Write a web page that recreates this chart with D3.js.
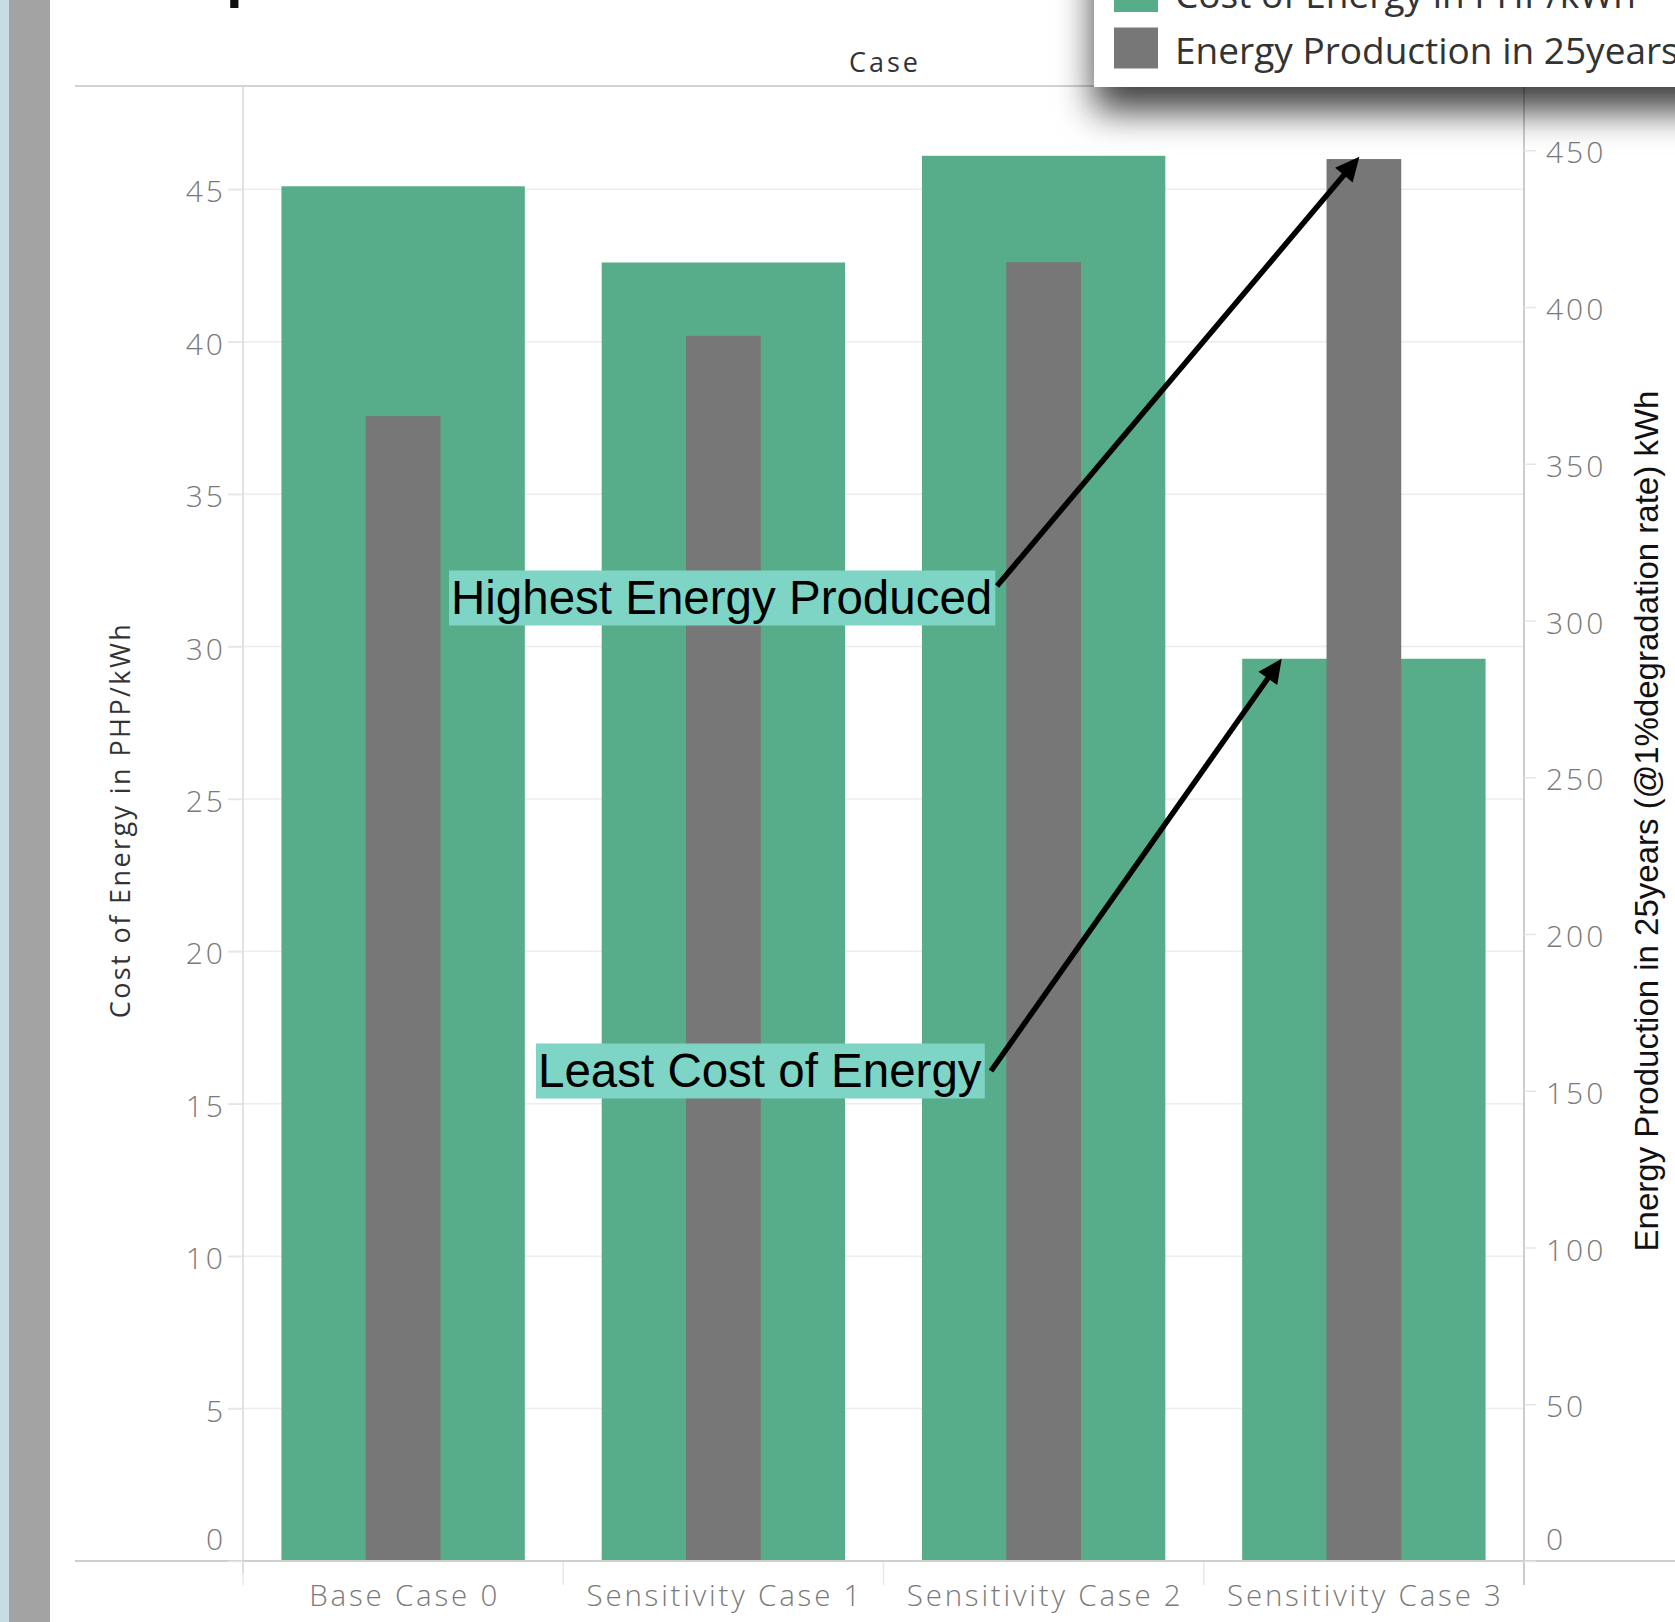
<!DOCTYPE html>
<html>
<head>
<meta charset="utf-8">
<script src="https://cdn.jsdelivr.net/npm/d3@7"></script>
<style>
  html, body { margin: 0; padding: 0; background: #ffffff; overflow: hidden; }
  svg { display: block; }
</style>
</head>
<body>
<div id="chart"></div>
<script>
// ---------------- DATA ----------------
const categories = ["Base Case 0", "Sensitivity Case 1", "Sensitivity Case 2", "Sensitivity Case 3"];
const costOfEnergy = [45.1, 42.6, 46.1, 29.6];           // PHP/kWh (left axis)
const energyProduction = [365.2, 390.8, 414.3, 447.2];    // kWh (right axis)
const leftTicks = [0, 5, 10, 15, 20, 25, 30, 35, 40, 45];
const rightTicks = [0, 50, 100, 150, 200, 250, 300, 350, 400, 450];
const seriesNames = ["Cost of Energy in PHP/kWh", "Energy Production in 25years (@1%degradation rate) kWh"];
const leftTitle = "Cost of Energy in PHP/kWh";
const rightTitle = "Energy Production in 25years (@1%degradation rate) kWh";
const headerTitle = "Case";
const annotations = [
  { text: "Highest Energy Produced", series: "energy", index: 3 },
  { text: "Least Cost of Energy", series: "cost", index: 3 }
];

// ---------------- LAYOUT ----------------
const W = 1675, H = 1622;
const plot = { left: 243, right: 1524, top: 86, bottom: 1561 };
const GREEN = "#57ad8a", GRAY = "#777777";
const TABFONT = "'Open Sans', 'DejaVu Sans', sans-serif";
const ARIAL = "'Liberation Sans', Arial, sans-serif";

const svg = d3.select("#chart").append("svg")
  .attr("width", W).attr("height", H)
  .attr("viewBox", `0 0 ${W} ${H}`);

const defs = svg.append("defs");
const shadow = defs.append("filter").attr("id", "legendShadow")
  .attr("x", "-30%").attr("y", "-60%").attr("width", "160%").attr("height", "260%");
shadow.append("feDropShadow").attr("dx", 0).attr("dy", 24).attr("stdDeviation", 18)
  .attr("flood-color", "#000").attr("flood-opacity", 0.75);

// left window strip
svg.append("rect").attr("x", 0).attr("y", 0).attr("width", 9).attr("height", H).attr("fill", "#c8dde3");
svg.append("rect").attr("x", 9).attr("y", 0).attr("width", 41).attr("height", H).attr("fill", "#a3a3a3");

// clipped title fragment at very top
svg.append("text").attr("x", 226).attr("y", -4)
  .attr("font-family", ARIAL).attr("font-weight", "bold").attr("font-size", 60)
  .attr("fill", "#111").text("p");

// ---------------- SCALES ----------------
const x = d3.scaleBand().domain(categories)
  .range([plot.left, plot.right]).paddingInner(0.24).paddingOuter(0.12);
const yL = d3.scaleLinear().domain([0, 48.39]).range([plot.bottom, plot.top]);
const yR = d3.scaleLinear().domain([0, 470.5]).range([plot.bottom, plot.top]);
const grayW = x.bandwidth() * 0.307;

// gridlines (left axis)
svg.append("g").selectAll("line").data(leftTicks).join("line")
  .attr("x1", plot.left - 15).attr("x2", plot.right)
  .attr("y1", d => yL(d)).attr("y2", d => yL(d))
  .attr("stroke", "#ececec").attr("stroke-width", 1.5);

// band separators below axis
const bounds = categories.map(c => x(c) - x.step() * x.paddingInner() / 2).concat([plot.right]);
svg.append("g").selectAll("line").data(bounds).join("line")
  .attr("x1", d => d).attr("x2", d => d)
  .attr("y1", plot.bottom).attr("y2", plot.bottom + 24)
  .attr("stroke", "#e8e8e8").attr("stroke-width", 1.5);

// axis frame lines
svg.append("line").attr("x1", plot.left).attr("x2", plot.left)
  .attr("y1", plot.top).attr("y2", plot.bottom + 12)
  .attr("stroke", "#d9d9d9").attr("stroke-width", 1.5);
svg.append("line").attr("x1", plot.right).attr("x2", plot.right)
  .attr("y1", plot.top).attr("y2", plot.bottom + 24)
  .attr("stroke", "#cccccc").attr("stroke-width", 2);

// ---------------- BARS ----------------
svg.append("g").selectAll("rect").data(categories).join("rect")
  .attr("x", d => x(d)).attr("width", x.bandwidth())
  .attr("y", (d, i) => yL(costOfEnergy[i]))
  .attr("height", (d, i) => yL(0) - yL(costOfEnergy[i]))
  .attr("fill", GREEN);

svg.append("g").selectAll("rect").data(categories).join("rect")
  .attr("x", d => x(d) + x.bandwidth() / 2 - grayW / 2).attr("width", grayW)
  .attr("y", (d, i) => yR(energyProduction[i]))
  .attr("height", (d, i) => yR(0) - yR(energyProduction[i]))
  .attr("fill", GRAY);

// horizontal frame lines
svg.append("line").attr("x1", 75).attr("x2", W).attr("y1", plot.bottom).attr("y2", plot.bottom)
  .attr("stroke", "#cfcfcf").attr("stroke-width", 2);
svg.append("line").attr("x1", 75).attr("x2", W).attr("y1", plot.top).attr("y2", plot.top)
  .attr("stroke", "#d2d2d2").attr("stroke-width", 2);

// ---------------- AXES ----------------
const tickStyle = g => {
  g.select(".domain").remove();
  g.selectAll(".tick line").attr("stroke", "#e6e6e6").attr("stroke-width", 1.5);
  g.selectAll(".tick text")
    .attr("font-family", TABFONT).attr("font-weight", 300).attr("font-size", 30)
    .attr("letter-spacing", 3).attr("fill", "#7a7a7a")
    .attr("dy", d => d === 0 ? "-0.38em" : "0.42em");
};

svg.append("g").attr("transform", `translate(${plot.left},0)`)
  .call(d3.axisLeft(yL).tickValues(leftTicks).tickSize(15).tickPadding(2).tickFormat(d3.format("d")))
  .call(tickStyle);

svg.append("g").attr("transform", `translate(${plot.right},0)`)
  .call(d3.axisRight(yR).tickValues(rightTicks).tickSize(12).tickPadding(10).tickFormat(d3.format("d")))
  .call(tickStyle);

// x labels
svg.append("g").selectAll("text").data(categories).join("text")
  .attr("x", d => x(d) + x.bandwidth() / 2 + 1.5).attr("y", 1606)
  .attr("text-anchor", "middle")
  .attr("font-family", TABFONT).attr("font-weight", 300).attr("font-size", 29.5)
  .attr("letter-spacing", 2.8).attr("fill", "#7a7a7a")
  .text(d => d);

// axis titles
svg.append("text").attr("transform", `translate(130,820) rotate(-90)`)
  .attr("text-anchor", "middle")
  .attr("font-family", TABFONT).attr("font-size", 27).attr("letter-spacing", 2.4)
  .attr("fill", "#333").text(leftTitle);

svg.append("text").attr("transform", `translate(1658,821) rotate(-90)`)
  .attr("text-anchor", "middle")
  .attr("font-family", ARIAL).attr("font-size", 33)
  .attr("fill", "#111").text(rightTitle);

svg.append("text").attr("x", (plot.left + plot.right) / 2 + 1.5).attr("y", 71.5)
  .attr("text-anchor", "middle")
  .attr("font-family", TABFONT).attr("font-size", 27).attr("letter-spacing", 3)
  .attr("fill", "#333").text(headerTitle);

// ---------------- ANNOTATIONS ----------------
const annoLayout = [
  { tx: 451, ty: 614, sx: 997, sy: 586 },
  { tx: 538, ty: 1087, sx: 991, sy: 1071 }
];
const annoG = svg.append("g");
annotations.forEach((a, k) => {
  const L = annoLayout[k];
  const g = annoG.append("g");
  const rect = g.append("rect").attr("fill", "#7ed4c5");
  const t = g.append("text").attr("x", L.tx).attr("y", L.ty)
    .attr("font-family", ARIAL).attr("font-size", 47.5).attr("fill", "#000")
    .text(a.text);
  const bb = t.node().getBBox();
  rect.attr("x", bb.x - 2).attr("y", bb.y - 0.5).attr("width", bb.width + 5).attr("height", bb.height + 2);

  const cat = categories[a.index];
  let tipX, tipY;
  if (a.series === "energy") {
    tipX = x(cat) + x.bandwidth() / 2 - 4.5;
    tipY = yR(energyProduction[a.index]) - 2.3;
  } else {
    tipX = x(cat) + 39.5;
    tipY = yL(costOfEnergy[a.index]);
  }
  const dx = tipX - L.sx, dy = tipY - L.sy, len = Math.hypot(dx, dy);
  const ux = dx / len, uy = dy / len;
  const headLen = 24, headHalf = 11.5;
  const bx = tipX - ux * headLen, by = tipY - uy * headLen;
  g.append("line").attr("x1", L.sx).attr("y1", L.sy).attr("x2", bx + ux * 2).attr("y2", by + uy * 2)
    .attr("stroke", "#000").attr("stroke-width", 5.5);
  g.append("path")
    .attr("d", `M${tipX},${tipY}L${bx - uy * headHalf},${by + ux * headHalf}L${bx + uy * headHalf},${by - ux * headHalf}Z`)
    .attr("fill", "#000");
});

// ---------------- LEGEND ----------------
const leg = svg.append("g");
leg.append("rect").attr("x", 1094).attr("y", -80).attr("width", 640).attr("height", 167)
  .attr("fill", "#fff").attr("filter", "url(#legendShadow)");
const legColors = [GREEN, GRAY];
seriesNames.forEach((name, i) => {
  leg.append("rect").attr("x", 1114).attr("y", -29 + i * 56.5).attr("width", 44).attr("height", 41)
    .attr("fill", legColors[i]);
  leg.append("text").attr("x", 1175).attr("y", 7.5 + i * 56)
    .attr("font-family", TABFONT).attr("font-size", 37).attr("fill", "#333")
    .text(name);
});
</script>
</body>
</html>
